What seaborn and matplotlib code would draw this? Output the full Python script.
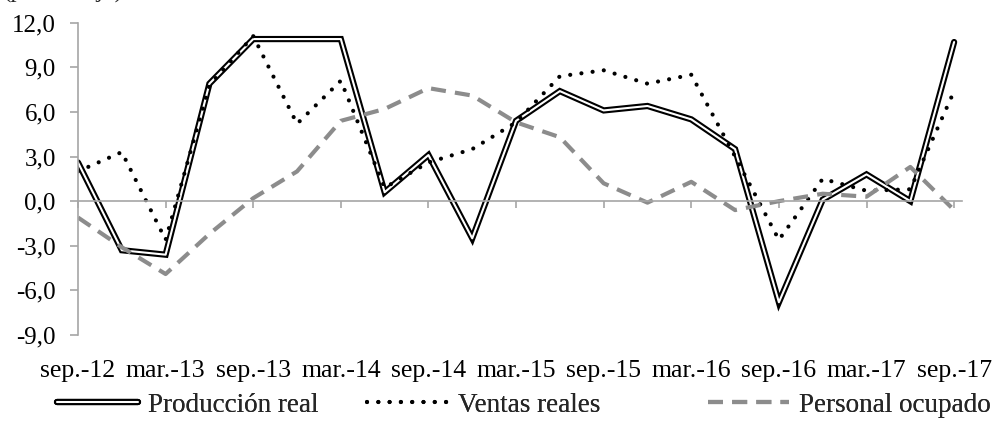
import numpy as np
import pandas as pd
import matplotlib
matplotlib.use("Agg")
import matplotlib.pyplot as plt
import matplotlib.patheffects as pe
import seaborn as sns

# trimestres (etiqueta cada dos)
periodos = ["sep.-12", "dic.-12", "mar.-13", "jun.-13", "sep.-13", "dic.-13",
            "mar.-14", "jun.-14", "sep.-14", "dic.-14", "mar.-15", "jun.-15",
            "sep.-15", "dic.-15", "mar.-16", "jun.-16", "sep.-16", "dic.-16",
            "mar.-17", "jun.-17", "sep.-17"]
produccion = [2.6, -3.3, -3.6, 7.9, 10.9, 10.9, 10.9, 0.6, 3.1, -2.5, 5.4,
              7.4, 6.1, 6.4, 5.5, 3.5, -6.8, 0.1, 1.8, 0.0, 10.7]
ventas = [2.0, 3.3, -2.6, 7.8, 11.1, 5.2, 8.1, 0.9, 2.6, 3.5, 5.3,
          8.4, 8.8, 7.9, 8.5, 3.0, -2.6, 1.5, 0.7, 0.8, 7.4]
personal = [-1.1, -3.1, -4.9, -2.2, 0.2, 2.0, 5.4, 6.2, 7.6, 7.1, 5.3,
            4.3, 1.2, -0.1, 1.3, -0.6, 0.0, 0.5, 0.3, 2.3, -0.6]
y_ticks = [-9, -6, -3, 0, 3, 6, 9, 12]

df = pd.DataFrame({"t": np.arange(len(periodos)), "periodo": periodos,
                   "produccion": produccion, "ventas": ventas, "personal": personal})

sns.set_style("white")
plt.rcParams["font.family"] = ["Liberation Serif", "DejaVu Serif"]
gris_eje = "#a6a6a6"
gris = "#8c8c8c"

fig = plt.figure(figsize=(9.96, 4.25), dpi=100)
ax = fig.add_axes([78 / 996, 90 / 425, 884 / 996, 312.3 / 425])

sns.lineplot(data=df, x="t", y="produccion", ax=ax, color="white", linewidth=1.5,
             label="Producción real",
             path_effects=[pe.Stroke(linewidth=4.5, foreground="black", joinstyle="miter"),
                           pe.Normal()])
sns.lineplot(data=df, x="t", y="ventas", ax=ax, color="black", linewidth=3.0,
             linestyle=(0, (0.01, 2.7)), dash_capstyle="round",
             label="Ventas reales")
sns.lineplot(data=df, x="t", y="personal", ax=ax, color=gris, linewidth=3.0,
             linestyle=(0, (3.6, 2.2)), label="Personal ocupado")

ax.set_xlim(0, 20.18)
ax.set_ylim(-9, 12)
ax.set_xlabel("")
ax.set_ylabel("")

for s in ["top", "right"]:
    ax.spines[s].set_visible(False)
ax.spines["left"].set_color(gris_eje)
ax.spines["left"].set_linewidth(1.2)
ax.spines["bottom"].set_position(("data", 0))
ax.spines["bottom"].set_color(gris_eje)
ax.spines["bottom"].set_linewidth(1.2)

ax.set_yticks(y_ticks, labels=[f"{v:.1f}".replace(".", ",") for v in y_ticks])
ax.tick_params(axis="y", length=6, width=1.2, color=gris_eje, pad=10,
               labelsize=18, labelcolor="black", left=True)
ax.set_xticks(df["t"][::2])
ax.tick_params(axis="x", direction="out", length=5, width=1.2, color=gris_eje,
               labelbottom=False, bottom=True)

sec = ax.secondary_xaxis("bottom")
sec.set_xticks(df["t"][::2], labels=df["periodo"][::2])
sec.tick_params(length=0, pad=18, labelsize=18.5, labelcolor="black")
sec.spines["bottom"].set_visible(False)

handles, labels = ax.get_legend_handles_labels()
ax.legend_.remove()
# cada entrada de la leyenda en su sitio, como en el original
for h, lab, x0 in zip(handles, labels, [57, 367, 708]):
    leg = fig.legend([h], [lab], loc="center left",
                     bbox_to_anchor=(x0 / 996, 20 / 425),
                     frameon=False, fontsize=19.5, handlelength=3.0,
                     handletextpad=0.35, borderaxespad=0, borderpad=0)
    fig.add_artist(leg)

# titulo recortado en el borde superior
fig.text(3 / 996, 1 + 2.5 / 425, "(porcentaje)", fontsize=18, va="baseline")

fig.savefig("out.png", dpi=100)
